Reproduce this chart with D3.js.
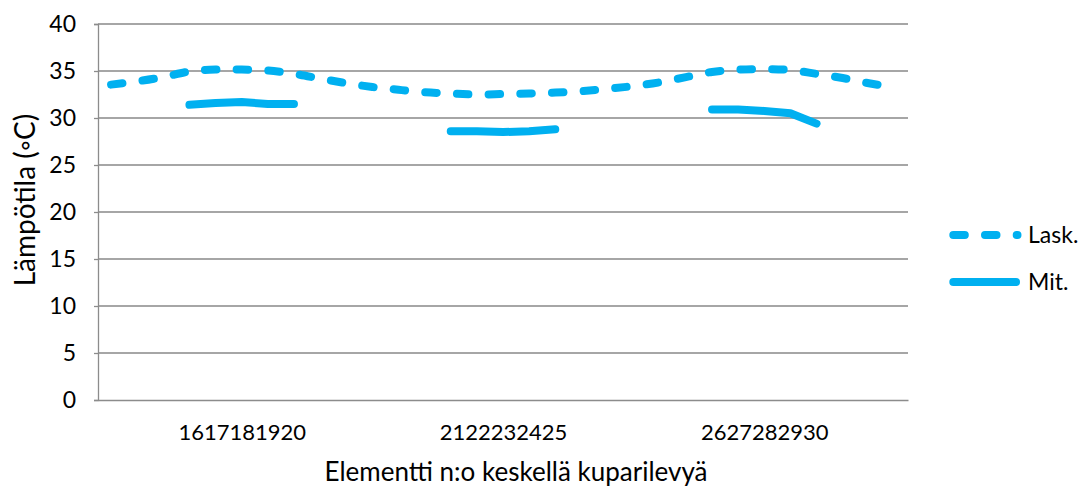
<!DOCTYPE html>
<html>
<head>
<meta charset="utf-8">
<script src="https://cdn.jsdelivr.net/npm/d3@7"></script>
<style>
  html, body { margin: 0; padding: 0; background: #fff; }
  svg { display: block; font-family: Lato, "Open Sans", sans-serif; }
</style>
</head>
<body>
<svg id="chart" width="1082" height="489"></svg>
<script>
// ---- data ----
const categories = [
  "e0","e1","e2","e3","e4","e5","e6","e7","e8","e9",
  "e10","e11","e12","e13","e14","e15","e16","e17","e18","e19",
  "e20","e21","e22","e23","e24","e25","e26","e27","e28","e29","e30"
];
const xTickLabels = ["1617181920", "2122232425", "2627282930"];
const xTickCategories = ["e5", "e15", "e25"];
const laskValues = [
  33.55, 33.9, 34.35, 34.95, 35.15, 35.15, 35.05, 34.7, 34.2, 33.7,
  33.3, 33.0, 32.75, 32.6, 32.5, 32.55, 32.6, 32.7, 32.85, 33.1,
  33.4, 33.8, 34.35, 34.9, 35.15, 35.2, 35.1, 34.7, 34.25, 33.7, 33.25
];
const mitValues = [
  null, null, null, 31.4, 31.6, 31.7, 31.5, 31.5, null, null,
  null, null, null, 28.6, 28.6, 28.5, 28.6, 28.8, null, null,
  null, null, null, 30.9, 30.9, 30.75, 30.5, 29.4, null, null, null
];
const yTicks = [0, 5, 10, 15, 20, 25, 30, 35, 40];
const seriesNames = ["Lask.", "Mit."];
const yTitle = "Lämpötila (◦C)";
const xTitle = "Elementti n:o keskellä kuparilevyä";

// ---- layout ----
const svg = d3.select("#chart");
const plot = { left: 98, right: 908, top: 24, bottom: 400 };
const color = "#00b0f0";
const gridColor = "#a6a6a6";
const fontSize = 22;
const titleSize = 26;

const x = d3.scalePoint().domain(categories).range([plot.left, plot.right]).padding(0.5);
const y = d3.scaleLinear().domain([0, 40]).range([plot.bottom, plot.top]);

// gridlines
svg.append("g").selectAll("line").data(yTicks.filter(d => d > 0)).join("line")
  .attr("x1", plot.left).attr("x2", plot.right)
  .attr("y1", d => y(d)).attr("y2", d => y(d))
  .attr("stroke", gridColor).attr("stroke-width", 1.3).attr("shape-rendering", "crispEdges");

// y axis
const yAxis = d3.axisLeft(y).tickValues(yTicks).tickSize(4).tickPadding(18);
const gy = svg.append("g").attr("transform", `translate(${plot.left},0)`).call(yAxis);
gy.select(".domain").attr("stroke", "#8c8c8c").attr("stroke-width", 1.3);
gy.selectAll(".tick line").attr("stroke", "#8c8c8c").attr("stroke-width", 1.3);
gy.selectAll(".tick text").attr("font-size", fontSize + 1).attr("font-family", "Lato").attr("fill", "#000");

// x axis
const xAxis = d3.axisBottom(x).tickValues(xTickCategories)
  .tickFormat((d) => xTickLabels[xTickCategories.indexOf(d)]).tickSize(0).tickPadding(24);
const gx = svg.append("g").attr("transform", `translate(0,${plot.bottom})`).call(xAxis);
gx.select(".domain").attr("stroke", "#8c8c8c").attr("stroke-width", 1.3);
gx.selectAll(".tick text").attr("font-size", fontSize).attr("font-family", "Lato").attr("fill", "#000");

// lines
const laskLine = d3.line()
  .x((d, i) => x(categories[i])).y(d => y(d))
  .curve(d3.curveCatmullRom.alpha(0.5));
svg.append("path").datum(laskValues)
  .attr("d", laskLine)
  .attr("fill", "none").attr("stroke", color).attr("stroke-width", 8)
  .attr("stroke-linecap", "round").attr("stroke-dasharray", "11.5,20.2");

const mitLine = d3.line()
  .defined(d => d !== null)
  .x((d, i) => x(categories[i])).y(d => y(d));
svg.append("path").datum(mitValues)
  .attr("d", mitLine)
  .attr("fill", "none").attr("stroke", color).attr("stroke-width", 8)
  .attr("stroke-linecap", "round").attr("stroke-linejoin", "round");

// axis titles
svg.append("text").text(xTitle)
  .attr("x", 516).attr("y", 481).attr("text-anchor", "middle")
  .attr("font-size", titleSize).attr("fill", "#000");
svg.append("text").text(yTitle)
  .attr("transform", "translate(35,200) rotate(-90)").attr("text-anchor", "middle")
  .attr("font-size", titleSize + 2).attr("fill", "#000");

// legend
const legend = svg.append("g");
const legY = [235, 282];
legend.append("line").attr("x1", 953.3).attr("x2", 1017.5).attr("y1", legY[0]).attr("y2", legY[0])
  .attr("stroke", color).attr("stroke-width", 8).attr("stroke-linecap", "round")
  .attr("stroke-dasharray", "11.5,20.2");
legend.append("line").attr("x1", 953.3).attr("x2", 1016).attr("y1", legY[1]).attr("y2", legY[1])
  .attr("stroke", color).attr("stroke-width", 8).attr("stroke-linecap", "round");
legend.selectAll("text").data(seriesNames).join("text")
  .text(d => d).attr("x", 1028).attr("y", (d, i) => legY[i] + 8)
  .attr("font-size", fontSize + 1).attr("fill", "#000");
</script>
</body>
</html>
